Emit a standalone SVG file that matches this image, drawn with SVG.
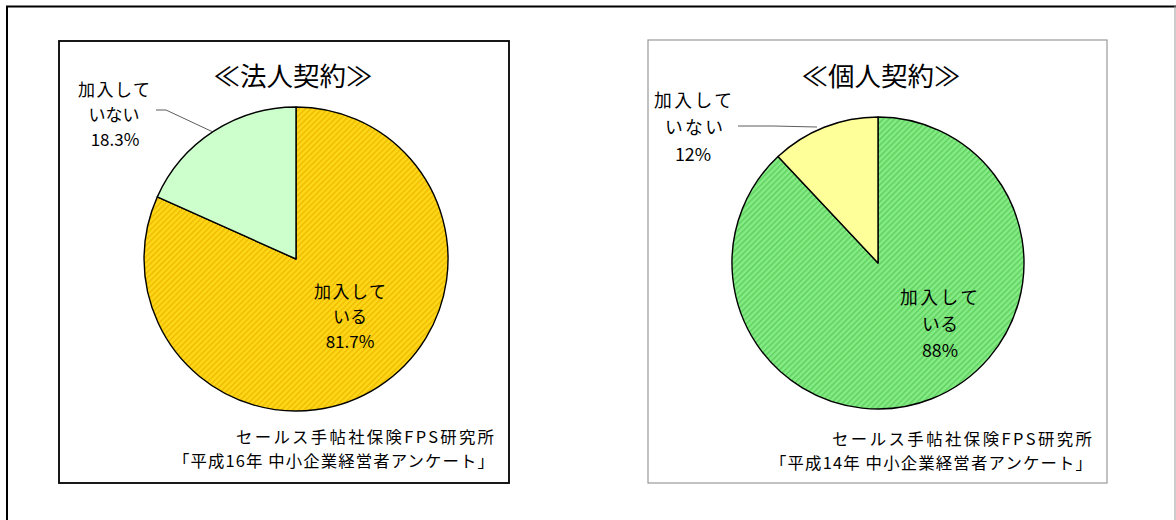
<svg xmlns="http://www.w3.org/2000/svg" width="1176" height="520" viewBox="0 0 1176 520">
<style>
.jp{font-family:"Noto Sans CJK JP","Noto Sans",sans-serif;fill:#000}
.t{font-size:26.5px;text-anchor:middle}
.l18{font-size:17px;text-anchor:middle}
.l20{font-size:17.8px;text-anchor:middle}
.src{font-size:16.4px;text-anchor:end}
.pie{stroke:#000;stroke-width:1.4;stroke-linejoin:round}
.lead{fill:none;stroke:#333;stroke-width:0.8}
</style>
<defs>
<pattern id="hGold" patternUnits="userSpaceOnUse" width="4" height="4" patternTransform="rotate(45)">
<rect width="4" height="4" fill="#FFD81A"/>
<rect width="1.5" height="4" fill="#EEBB00"/>
</pattern>
<pattern id="hGreen" patternUnits="userSpaceOnUse" width="4" height="4" patternTransform="rotate(45)">
<rect width="4" height="4" fill="#86EC86"/>
<rect width="1.5" height="4" fill="#5FD05F"/>
</pattern>
</defs>
<rect width="1176" height="520" fill="#fff"/>
<g id="frame">
<path d="M7,520 V6.5 H1176" fill="none" stroke="#000" stroke-width="2"/>
<line x1="1175" y1="6" x2="1175" y2="520" stroke="#999" stroke-width="1"/>
</g>
<g id="chart-corporate">
<rect x="59" y="41" width="450" height="442" fill="#fff" stroke="#000" stroke-width="1.8"/>
<text class="jp t" x="293" y="86">≪法人契約≫</text>
<path class="pie" fill="url(#hGold)" d="M296,259 L296,107 A152,152 0 1 1 157.3,196.9 Z"/>
<path class="pie" fill="#CCFFCC" d="M296,259 L157.3,196.9 A152,152 0 0 1 296,107 Z"/>
<text class="jp l18" x="114" y="96" textLength="72">加入して</text>
<text class="jp l18" x="114" y="121">いない</text>
<text class="jp l18" x="115" y="146">18.3%</text>
<text class="jp l18" x="350" y="298" textLength="72">加入して</text>
<text class="jp l18" x="350" y="323">いる</text>
<text class="jp l18" x="350" y="348">81.7%</text>
<text class="jp src" x="494" y="443" textLength="258">セールス手帖社保険FPS研究所</text>
<text class="jp src" x="494" y="467" textLength="321">「平成16年 中小企業経営者アンケート」</text>
</g>
<g id="chart-individual">
<rect x="648" y="40" width="459" height="443" fill="#fff" stroke="#999" stroke-width="1.2"/>
<text class="jp t" x="881" y="86">≪個人契約≫</text>
<path class="pie" fill="url(#hGreen)" d="M878,263 L878,117 A146,146 0 1 1 778,156.6 Z"/>
<path class="pie" fill="#FFFF99" d="M878,263 L778,156.6 A146,146 0 0 1 878,117 Z"/>
<text class="jp l20" x="693" y="107" textLength="78">加入して</text>
<text class="jp l20" x="694" y="134" textLength="58">いない</text>
<text class="jp l20" x="693" y="161">12%</text>
<text class="jp l20" x="939" y="304" textLength="78">加入して</text>
<text class="jp l20" x="940" y="331" textLength="36">いる</text>
<text class="jp l20" x="940" y="357">88%</text>
<text class="jp src" x="1092" y="445" textLength="260">セールス手帖社保険FPS研究所</text>
<text class="jp src" x="1092" y="469" textLength="322">「平成14年 中小企業経営者アンケート」</text>
</g>
<g id="connectors">
<polyline class="lead" points="156,110 166,110 213,132"/>
<polyline class="lead" points="738,126 773,126 817,127"/>
</g>
</svg>
